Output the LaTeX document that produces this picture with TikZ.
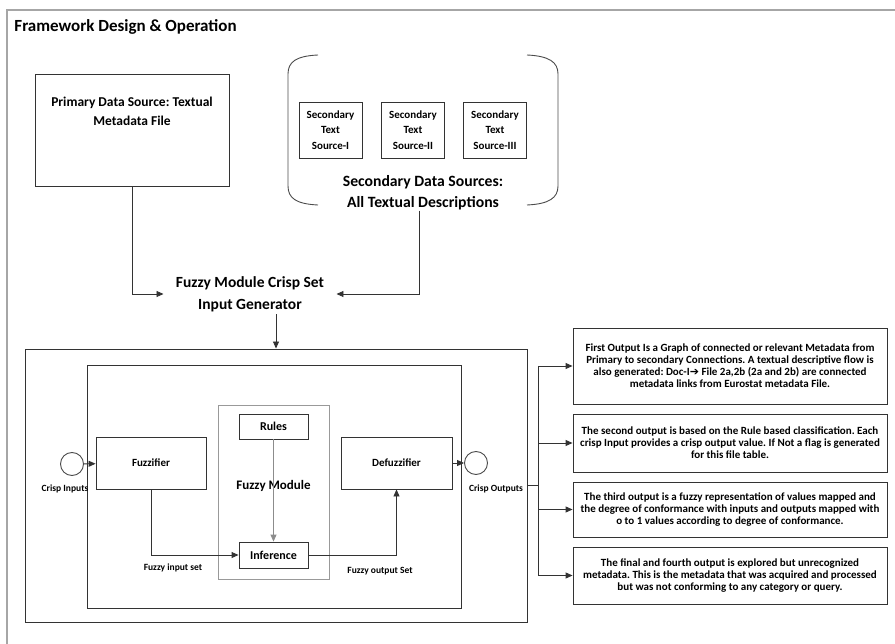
\documentclass[tikz,border=0pt]{standalone}
\usepackage{fontspec}
\setmainfont{Carlito}
\newfontfamily\arrowfont{DejaVu Sans}
\usetikzlibrary{arrows.meta}
\frenchspacing

\begin{document}
\begin{tikzpicture}[x=1pt, y=-1pt, >={Triangle[length=7pt, width=6pt]},
    line width=0.9pt, draw=black!80, font=\bfseries,
    box/.style={draw, line width=0.9pt, inner sep=0pt, align=center},
    srcbox/.style={box, minimum width=63pt, minimum height=56pt, font=\fontsize{11}{15.5}\selectfont\bfseries},
    outbox/.style={box, minimum width=314pt, font=\fontsize{11}{12}\selectfont\bfseries},
    tag/.style={font=\fontsize{9.5}{11}\selectfont\bfseries, inner sep=0pt}]
        \useasboundingbox (0,0) rectangle (895,644);
        % Rahmen und Titel
        \draw[black!35, line width=1.2pt] (7,644) -- (7,10) -- (895,10);
        \node[anchor=west, inner sep=0pt, font=\fontsize{17}{20}\selectfont\bfseries] (title) at (14,27) {Framework Design \& Operation};

        % Datenquellen
        \node[box, minimum width=194pt, minimum height=112pt] (prim) at (132,130) {};
        \node[align=center, inner sep=0pt, font=\fontsize{13.5}{19}\selectfont\bfseries] (primtxt) at (132,111) {Primary Data Source: Textual\\Metadata File};
        \draw[black!70] (318,55) .. controls (296,56) and (288,62) .. (288,74) -- (288,186) .. controls (288,198) and (296,204) .. (318,205);
        \draw[black!70] (527,55) .. controls (549,56) and (558,62) .. (558,74) -- (558,186) .. controls (558,198) and (549,204) .. (527,205);
        \node[srcbox] (sec1) at (330.5,130) {Secondary\\Text\\Source-I};
        \node[srcbox] (sec2) at (413,130) {Secondary\\Text\\Source-II};
        \node[srcbox] (sec3) at (495,130) {Secondary\\Text\\Source-III};
        \node[align=center, inner sep=0pt, font=\fontsize{15.7}{21}\selectfont\bfseries] (seclbl) at (423,193) {Secondary Data Sources:\\All Textual Descriptions};

        % Eingabegenerator
        \node[align=center, inner xsep=12pt, inner ysep=2pt, font=\fontsize{15.5}{22}\selectfont\bfseries] (gen) at (250,294) {Fuzzy Module Crisp Set\\Input Generator};
        \draw[->] (prim.south) |- (gen.west);
        \draw[->] ([xshift=-4pt]seclbl.south) |- (gen.east);

        % Fuzzy-System
        \node[box, minimum width=502pt, minimum height=273pt] (main) at (276,485.5) {};
        \node[box, minimum width=374pt, minimum height=243pt] (inner) at (274,486.5) {};
        \node[box, draw=black!40, minimum width=111pt, minimum height=174pt] (fmod) at (273.5,492) {};
        \node[font=\fontsize{13}{15}\selectfont\bfseries] (fmodtxt) at (273.5,486) {Fuzzy Module};
        \node[box, minimum width=69pt, minimum height=25pt, font=\fontsize{12}{14}\selectfont\bfseries] (rules) at (273.5,426.5) {Rules};
        \node[box, minimum width=69pt, minimum height=26pt, font=\fontsize{12}{14}\selectfont\bfseries] (inf) at (273.5,555) {Inference};
        \node[box, minimum width=110pt, minimum height=52pt, font=\fontsize{11}{13}\selectfont\bfseries] (fuzz) at (151,463) {Fuzzifier};
        \node[box, minimum width=111pt, minimum height=52pt, font=\fontsize{11}{13}\selectfont\bfseries] (defuzz) at (396.5,463) {Defuzzifier};
        \node[circle, draw=black!70, minimum size=23pt, inner sep=0pt] (cin) at (72,464) {};
        \node[circle, draw=black!70, minimum size=23pt, inner sep=0pt] (cout) at (476,463) {};
        \node[tag] (cintxt) at (65,489) {Crisp Inputs};
        \node[tag] (couttxt) at (496,489) {Crisp Outputs};
        \node[tag] (fistxt) at (173,568) {Fuzzy input set};
        \node[tag] (fostxt) at (380,571) {Fuzzy output Set};

        \draw[->] (gen.south -| main.north) -- (main.north);
        \draw[->] (cin) -- (fuzz);
        \draw[->] (defuzz) -- (cout);
        \draw[->, black!45] (rules) -- (inf);
        \draw[->] (fuzz) |- (inf);
        \draw[->] (inf) -| (defuzz);

        % Ausgaben
        \node[outbox, minimum height=76pt] (out1) at (730,366) {First Output Is a Graph of connected or relevant Metadata from\\Primary to secondary Connections. A textual descriptive flow is\\also generated: Doc-I{\arrowfont ➔} File 2a,2b (2a and 2b) are connected\\metadata links from Eurostat metadata File.};
        \node[outbox, minimum height=58pt] (out2) at (730,443) {The second output is based on the Rule based classification. Each\\crisp Input provides a crisp output value. If Not a flag is generated\\for this file table.};
        \node[outbox, minimum height=55pt] (out3) at (730,509.5) {The third output is a fuzzy representation of values mapped and\\the degree of conformance with inputs and outputs mapped with\\o to 1 values according to degree of conformance.};
        \node[outbox, minimum height=57pt] (out4) at (730,575.5) {The final and fourth output is explored but unrecognized\\metadata. This is the metadata that was acquired and processed\\but was not conforming to any category or query.};

        \coordinate (bus) at (538,485.5);
        \draw (main.east) -- (bus);
        \draw (bus |- out1.west) -- (bus |- out4.west);
        \foreach \k in {1,...,4}
            \draw[->] (bus |- out\k.west) -- (out\k.west);
    \end{tikzpicture}
\end{document}
